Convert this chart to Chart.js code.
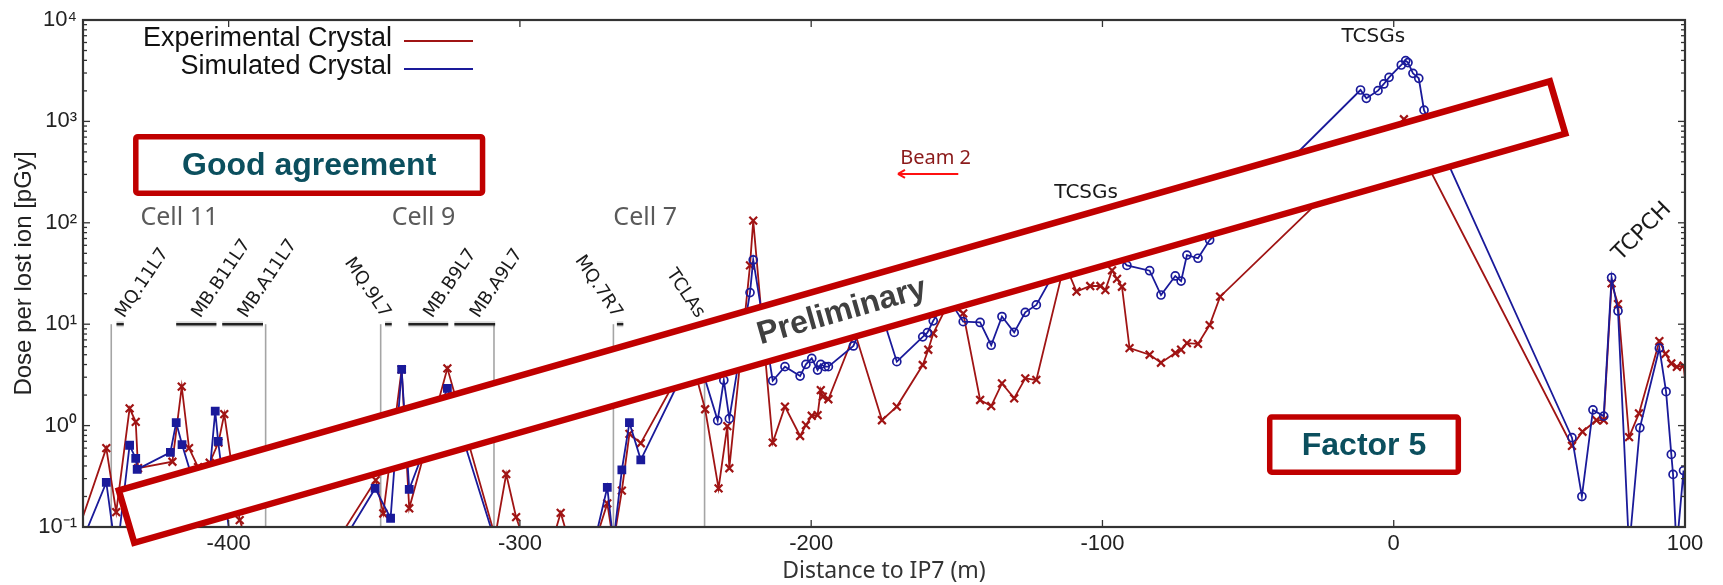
<!DOCTYPE html>
<html>
<head>
<meta charset="utf-8">
<script src="https://cdn.jsdelivr.net/npm/chart.js@4.4.0/dist/chart.umd.min.js"></script>
<style>
  html, body { margin: 0; padding: 0; background: #fff; }
</style>
</head>
<body>
<canvas id="myChart" width="1723" height="585"></canvas>
<script>
// Experimental crystal (red, x markers) - distance to IP7 [m] / dose [pGy]
const expX = [-455, -442.0, -438.6, -434.0, -431.9, -431.1, -419.3, -416.1, -413.6, -410.5,
  -406.5, -403.5, -401.5, -396.2, -392, -362, -349.5, -346.9, -340.6, -338.0,
  -324.9, -308.5, -304.7, -301.3, -297.5, -289, -286.0, -283, -275, -270.0,
  -267.9, -265.0, -262.4, -258.5, -246, -240, -236.4, -231.8, -228.8, -228.1,
  -221.0, -219.9, -213.2, -209.0, -203.8, -201.8, -199.8, -197.8, -196.7, -196.0,
  -194.1, -185, -175.7, -170.6, -161.7, -159.8, -158.1, -153, -147.8, -142.0,
  -138.2, -134.5, -130.3, -126.5, -122.7, -113, -108.9, -104.2, -100.7, -99.0,
  -96.7, -95.0, -93.3, -90.7, -83.8, -79.9, -75.0, -73.0, -71.0, -67.2,
  -63.2, -59.6, 3.5, 61.2, 64.8, 69.6, 72.1, 74.8, 77.0, 80.8,
  84.2, 91.2, 93.3, 95.3, 97.2, 99.5, 101.5];
const expY = [0.048, 0.60, 0.14, 1.48, 1.09, 0.38, 0.44, 2.42, 0.60, 0.39,
  0.43, 0.68, 1.30, 0.117, 0.05, 0.079, 0.29, 0.136, 3.59, 0.153,
  3.67, 0.08, 0.333, 0.125, 0.06, 0.07, 0.138, 0.07, 0.06, 0.171,
  0.07, 0.228, 0.83, 0.67, 3.0, 3.5, 1.45, 0.24, 0.99, 0.38,
  38, 105, 0.68, 1.54, 0.79, 1.01, 1.25, 1.27, 2.24, 1.93,
  1.82, 8.3, 1.13, 1.54, 3.96, 5.6, 8.1, 16, 12.8, 1.79,
  1.56, 2.61, 1.86, 2.92, 2.82, 40, 21, 23.8, 23.8, 21.7,
  34, 28, 23.4, 5.8, 5.0, 4.17, 5.2, 5.6, 6.5, 6.4,
  9.8, 18.7, 1050, 0.63, 0.87, 1.13, 1.13, 25.3, 15.8, 0.77,
  1.32, 6.8, 5.1, 4.1, 3.8, 3.9, 1.2];

// Simulated crystal (blue, squares then circles)
const simX = [-452, -442.0, -438.5, -434.0, -431.9, -431.4, -420.0, -418.0, -416.0, -411,
  -406.5, -404.6, -403.6, -398, -361, -349.7, -344.4, -340.6, -338.0, -324.9,
  -309, -275, -270.0, -267.9, -265.0, -262.4, -258.5, -246, -239, -232.1,
  -230, -228.1, -221.0, -219.9, -213.2, -209.0, -203.8, -201.8, -199.8, -197.8,
  -196.7, -195.2, -194.1, -185.5, -178, -170.6, -161.7, -160.1, -158.1, -153,
  -147.8, -142.0, -138.2, -134.5, -130.3, -126.5, -122.7, -112, -103, -95,
  -91.6, -83.8, -79.9, -75.0, -73.0, -71.0, -67.2, -63.2, -11.4, -9.4,
  -5.4, -3.4, -1.6, 2.6, 4.1, 4.9, 6.6, 8.6, 10.4, 61.2,
  64.6, 68.4, 72.1, 74.8, 77.0, 80.8, 84.5, 91.2, 93.5, 95.3,
  95.9, 97.1, 99.5, 101];
const simY = [0.055, 0.275, 0.05, 0.64, 0.475, 0.37, 0.545, 1.07, 0.65, 0.22,
  0.35, 1.39, 0.70, 0.034, 0.07, 0.24, 0.122, 3.59, 0.235, 2.33,
  0.08, 0.06, 0.246, 0.07, 0.365, 1.07, 0.46, 2.5, 5, 1.12,
  2.8, 1.17, 20.5, 43, 2.77, 3.81, 3.08, 4.02, 4.6, 3.53,
  4.02, 3.81, 3.81, 6.1, 20, 4.27, 7.5, 8.25, 10.8, 18,
  10.6, 10.4, 6.2, 11.9, 8.3, 13.1, 15.5, 55, 60, 48,
  38, 33.7, 19.4, 29.9, 26.6, 48, 44.7, 67.6, 2040, 1690,
  2010, 2340, 2720, 3600, 3970, 3800, 2980, 2660, 1290, 0.76,
  0.20, 1.43, 1.24, 28.8, 13.5, 0.06, 0.95, 5.8, 2.16, 0.52,
  0.33, 0.06, 0.36, 0.05];

const xTicks = [-400, -300, -200, -100, 0, 100];
const yTicks = [0.1, 1, 10, 100, 1000, 10000];

// magnet / collimator markers (x in m)
const markerLines = [-440.3, -387.3, -347.8, -308.9, -267.9, -236.6];
const bracketLevel = 10;
const brackets = [
  { label: 'MQ.11L7', from: -438.5, to: -436, up: true },
  { label: 'MB.B11L7', from: -418, to: -404.2, up: true },
  { label: 'MB.A11L7', from: -402.2, to: -388.2, up: true },
  { label: 'MQ.9L7', from: -346.3, to: -344, up: false },
  { label: 'MB.B9L7', from: -338.3, to: -324.6, up: true },
  { label: 'MB.A9L7', from: -322.5, to: -308.5, up: true },
  { label: 'MQ.7R7', from: -266.7, to: -264.5, up: false }
];
const cellLabels = [
  { text: 'Cell 11', x: -416.9, y: 111 },
  { text: 'Cell 9', x: -333.1, y: 111 },
  { text: 'Cell 7', x: -257.0, y: 111 }
];

const sup = { '-': '\u207B', '0': '\u2070', '1': '\u00B9', '2': '\u00B2', '3': '\u00B3', '4': '\u2074' };
function powLabel(v) {
  const e = String(Math.round(Math.log10(v)));
  return '10' + e.split('').map(c => sup[c]).join('');
}

const RED = '#a01414';
const BLUE = '#1a1a9a';
const BOXRED = '#c00000';

function line(ctx, x0, y0, x1, y1) {
  ctx.beginPath(); ctx.moveTo(x0, y0); ctx.lineTo(x1, y1); ctx.stroke();
}

const overlay = {
  id: 'overlay',
  beforeDatasetsDraw(chart) {
    const { ctx, scales: { x, y } } = chart;
    const top = y.getPixelForValue(bracketLevel), bot = y.getPixelForValue(0.1);
    ctx.save();
    // vertical element limits
    ctx.strokeStyle = '#a5a5a5'; ctx.lineWidth = 1.6;
    markerLines.forEach(v => { const px = x.getPixelForValue(v); line(ctx, px, top, px, bot); });
    // element brackets + names
    brackets.forEach(b => {
      const x0 = x.getPixelForValue(b.from), x1 = x.getPixelForValue(b.to);
      ctx.strokeStyle = 'rgba(0,0,0,0.15)'; ctx.lineWidth = 6; line(ctx, x0, top, x1, top);
      ctx.strokeStyle = '#222'; ctx.lineWidth = 2.5; line(ctx, x0, top, x1, top);
      const xm = (x0 + x1) / 2;
      ctx.save();
      ctx.translate(xm + (b.up ? 0 : -2), top - 8);
      ctx.rotate((b.up ? -56 : 56) * Math.PI / 180);
      ctx.textAlign = b.up ? 'left' : 'right';
      ctx.textBaseline = 'middle';
      ctx.fillStyle = '#1a1a1a';
      ctx.font = '18px "DejaVu Sans"';
      ctx.fillText(b.label, 0, 0);
      ctx.restore();
    });
    // TCLA label
    ctx.save();
    ctx.translate(x.getPixelForValue(-236.6) - 4, top - 8);
    ctx.rotate(56 * Math.PI / 180);
    ctx.textAlign = 'right'; ctx.textBaseline = 'middle';
    ctx.fillStyle = '#1a1a1a'; ctx.font = '18px "DejaVu Sans"';
    ctx.fillText('TCLAs', 0, 0);
    ctx.restore();

    // cell labels
    ctx.font = '25px "Noto Sans"'; ctx.fillStyle = '#5a5a5a';
    ctx.textAlign = 'center'; ctx.textBaseline = 'middle';
    cellLabels.forEach(c => ctx.fillText(c.text, x.getPixelForValue(c.x), y.getPixelForValue(c.y)));

    // collimator names
    ctx.font = '20px "DejaVu Sans"'; ctx.fillStyle = '#1a1a1a';
    ctx.fillText('TCSGs', x.getPixelForValue(-105.6), y.getPixelForValue(197));
    ctx.fillText('TCSGs', x.getPixelForValue(-7.0), y.getPixelForValue(6840));
    ctx.save();
    ctx.translate(x.getPixelForValue(85.3), y.getPixelForValue(81.7));
    ctx.rotate(-45 * Math.PI / 180);
    ctx.font = '22px "DejaVu Sans"';
    ctx.fillText('TCPCH', 0, 0);
    ctx.restore();

    // beam direction
    ctx.font = '20px "Noto Sans"'; ctx.fillStyle = '#8b1a1a';
    ctx.fillText('Beam 2', x.getPixelForValue(-157.3), y.getPixelForValue(432));
    const ay = y.getPixelForValue(303), ax0 = x.getPixelForValue(-149.5), ax1 = x.getPixelForValue(-170.2);
    ctx.strokeStyle = '#ff1010'; ctx.lineWidth = 2;
    line(ctx, ax0, ay, ax1, ay);
    line(ctx, ax1, ay, ax1 + 7, ay - 4);
    line(ctx, ax1, ay, ax1 + 7, ay + 4);
    ctx.restore();
  },
  afterDatasetsDraw(chart) {
    const { ctx, chartArea: a, scales: { x, y } } = chart;
    ctx.save();
    // inward ticks
    ctx.strokeStyle = '#333'; ctx.lineWidth = 1.3;
    xTicks.forEach(v => {
      const px = x.getPixelForValue(v);
      line(ctx, px, a.bottom, px, a.bottom - 7);
      line(ctx, px, a.top, px, a.top + 7);
    });
    for (let e = -1; e <= 4; e++) {
      for (let m = 1; m < 10; m++) {
        const v = m * Math.pow(10, e);
        if (v > 10000) break;
        const py = y.getPixelForValue(v);
        const len = m === 1 ? 7 : 4;
        line(ctx, a.left, py, a.left + len, py);
        line(ctx, a.right, py, a.right - len, py);
      }
    }
    ctx.lineWidth = 2.2;
    ctx.strokeRect(a.left, a.top, a.right - a.left, a.bottom - a.top);

    // legend
    ctx.font = '27px "Liberation Sans"'; ctx.fillStyle = '#111';
    ctx.textAlign = 'right'; ctx.textBaseline = 'middle';
    const lx = a.left + 309;
    ctx.fillText('Experimental Crystal', lx, a.top + 19);
    ctx.fillText('Simulated Crystal', lx, a.top + 47);
    ctx.lineWidth = 2;
    ctx.strokeStyle = RED; line(ctx, a.left + 321, a.top + 21, a.left + 390, a.top + 21);
    ctx.strokeStyle = BLUE; line(ctx, a.left + 321, a.top + 49, a.left + 390, a.top + 49);

    // text boxes
    const box = (x0, x1, y0, y1, text) => {
      const px0 = x.getPixelForValue(x0), px1 = x.getPixelForValue(x1);
      const py0 = y.getPixelForValue(y0), py1 = y.getPixelForValue(y1);
      ctx.fillStyle = '#fff';
      ctx.strokeStyle = BOXRED; ctx.lineWidth = 5.5;
      ctx.beginPath();
      if (ctx.roundRect) ctx.roundRect(px0 + 2.7, py0 + 2.7, px1 - px0 - 5.4, py1 - py0 - 5.4, 2);
      else ctx.rect(px0 + 2.7, py0 + 2.7, px1 - px0 - 5.4, py1 - py0 - 5.4);
      ctx.fill(); ctx.stroke();
      ctx.fillStyle = '#0b4f5e'; ctx.font = 'bold 32px "Liberation Sans"';
      ctx.textAlign = 'center'; ctx.textBaseline = 'middle';
      ctx.fillText(text, (px0 + px1) / 2, (py0 + py1) / 2 + 1);
    };
    box(-432.8, -311.9, 752, 184, 'Good agreement');
    box(-43.5, 23.1, 1.29, 0.326, 'Factor 5');

    // slanted "Preliminary" banner (corners in data units)
    const tl = { x: x.getPixelForValue(-437.7), y: y.getPixelForValue(Math.pow(10, -0.640)) };
    const tr = { x: x.getPixelForValue(53.6), y: y.getPixelForValue(Math.pow(10, 3.3955)) };
    const bl = { x: x.getPixelForValue(-432.4), y: y.getPixelForValue(Math.pow(10, -1.156)) };
    const br = { x: tr.x + bl.x - tl.x, y: tr.y + bl.y - tl.y };
    ctx.beginPath();
    ctx.moveTo(tl.x, tl.y); ctx.lineTo(tr.x, tr.y); ctx.lineTo(br.x, br.y); ctx.lineTo(bl.x, bl.y);
    ctx.closePath();
    ctx.fillStyle = '#fff'; ctx.fill();
    ctx.strokeStyle = BOXRED; ctx.lineWidth = 6.5; ctx.lineJoin = 'miter'; ctx.stroke();
    const ang = Math.atan2(tr.y - tl.y, tr.x - tl.x);
    ctx.save();
    ctx.translate(x.getPixelForValue(-189.5), y.getPixelForValue(Math.pow(10, 1.122)));
    ctx.rotate(ang);
    ctx.fillStyle = '#404040'; ctx.font = 'bold 32px "Liberation Sans"';
    ctx.textAlign = 'center'; ctx.textBaseline = 'middle';
    ctx.fillText('Preliminary', 0, 0);
    ctx.restore();
    ctx.restore();
  }
};

const ctx = document.getElementById('myChart').getContext('2d');
const myChart = new Chart(ctx, {
  type: 'line',
  data: {
    datasets: [{
      label: 'Simulated Crystal',
      data: simX.map((v, i) => ({ x: v, y: simY[i] })),
      borderColor: BLUE,
      borderWidth: 1.8,
      pointStyle: c => (c.raw && c.raw.x < -250 ? 'rect' : 'circle'),
      pointRadius: c => (c.raw && c.raw.x < -250 ? 5 : 4),
      pointBackgroundColor: c => (c.raw && c.raw.x < -250 ? BLUE : 'rgba(255,255,255,0)'),
      pointBorderColor: BLUE,
      pointBorderWidth: 1.7,
      tension: 0
    }, {
      label: 'Experimental Crystal',
      data: expX.map((v, i) => ({ x: v, y: expY[i] })),
      borderColor: RED,
      borderWidth: 1.8,
      pointStyle: 'crossRot',
      pointRadius: 5.5,
      pointBorderColor: RED,
      pointBorderWidth: 2.2,
      tension: 0
    }]
  },
  options: {
    responsive: false,
    animation: false,
    devicePixelRatio: 1,
    layout: { padding: { top: 20, right: 38, left: 0, bottom: 0 } },
    plugins: { legend: { display: false }, tooltip: { enabled: false } },
    scales: {
      x: {
        type: 'linear', min: -450, max: 100,
        afterBuildTicks: s => { s.ticks = xTicks.map(v => ({ value: v })); },
        afterFit: s => { s.height = 58; },
        grid: { display: false, drawTicks: false },
        border: { display: false },
        ticks: { font: { family: 'Liberation Sans', size: 22 }, color: '#222', padding: 4,
          maxRotation: 0, autoSkip: false, callback: v => String(v) },
        title: { display: true, text: 'Distance to IP7 (m)', color: '#333',
          font: { family: 'Noto Sans', size: 23 }, padding: { top: 0, bottom: 0 } }
      },
      y: {
        type: 'logarithmic', min: 0.1, max: 10000,
        afterBuildTicks: s => { s.ticks = yTicks.map(v => ({ value: v })); },
        afterFit: s => { s.width = 83; },
        grid: { display: false, drawTicks: false },
        border: { display: false },
        ticks: { font: { family: 'Liberation Sans', size: 22 }, color: '#222', padding: 6,
          autoSkip: false, callback: v => powLabel(v) },
        title: { display: true, text: 'Dose per lost ion [pGy]', color: '#222',
          font: { family: 'Liberation Sans', size: 24 }, padding: { top: 10, bottom: 0 } }
      }
    }
  },
  plugins: [overlay]
});
</script>
</body>
</html>
